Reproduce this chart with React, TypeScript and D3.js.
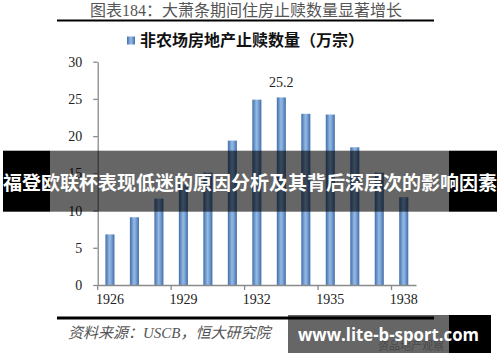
import React, { useEffect, useRef } from 'react'
import * as d3 from 'd3'

// data
const years = ['1926', '1927', '1928', '1929', '1930', '1931', '1932', '1933', '1934', '1935', '1936', '1937', '1938']
const foreclosures = [6.8, 9.1, 11.6, 13.5, 15.1, 19.4, 24.9, 25.2, 23.0, 22.9, 18.5, 15.1, 11.8]
const labelYears = ['1926', '1929', '1932', '1935', '1938']
const yTicks = [0, 5, 10, 15, 20, 25, 30]
const peakLabel = '25.2'
const peakYear = '1933'

const title = '图表184：大萧条期间住房止赎数量显著增长'
const legendLabel = '非农场房地产止赎数量（万宗）'
const source = '资料来源：USCB，恒大研究院'
const banner = '福登欧联杯表现低迷的原因分析及其背后深层次的影响因素'
const watermark = 'www.lite-b-sport.com'
const faintMark = '资品地产观察'

const serif = '"Liberation Serif", "Noto Sans CJK SC", serif'
const cjk = '"Noto Sans CJK SC", sans-serif'

export default function App() {
    const svgRef = useRef<SVGSVGElement>(null)

    useEffect(() => {
        const w = 500
        const h = 362
        const svg = d3.select(svgRef.current)
        svg.selectAll('*').remove()
        svg.attr('width', w).attr('height', h).style('background', 'white')

        const defs = svg.append('defs')
        const grad = defs.append('linearGradient').attr('id', 'barGrad')
            .attr('x1', '0%').attr('x2', '100%').attr('y1', '0%').attr('y2', '0%')
        grad.append('stop').attr('offset', '0%').attr('stop-color', '#3f6ea9')
        grad.append('stop').attr('offset', '45%').attr('stop-color', '#93b8e3')
        grad.append('stop').attr('offset', '60%').attr('stop-color', '#86acdb')
        grad.append('stop').attr('offset', '100%').attr('stop-color', '#3f6ea9')

        // scales
        const x = d3.scaleBand().domain(years).range([97.7, 416]).padding(0)
        const y = d3.scaleLinear().domain([0, 30]).range([285, 61.7])

        // title + rule
        svg.append('text')
            .attr('x', 246).attr('y', 16)
            .attr('text-anchor', 'middle')
            .style('font-family', serif).style('font-size', '16px').style('fill', '#555')
            .text(title)
        svg.append('line')
            .attr('x1', 57).attr('x2', 434).attr('y1', 20.5).attr('y2', 20.5)
            .attr('stroke', '#000').attr('stroke-width', 2.2)

        // legend
        svg.append('rect')
            .attr('x', 127).attr('y', 36.5).attr('width', 8).attr('height', 8)
            .attr('fill', 'url(#barGrad)')
        svg.append('text')
            .attr('x', 140).attr('y', 46)
            .style('font-family', cjk).style('font-size', '16px').style('font-weight', 'bold')
            .style('fill', '#111')
            .text(legendLabel)

        // bars
        const bw = x.bandwidth() * 0.37
        svg.append('g').selectAll('rect')
            .data(years)
            .join('rect')
            .attr('x', (d) => (x(d) as number) + x.bandwidth() / 2 - bw / 2)
            .attr('width', bw)
            .attr('y', (d, i) => y(foreclosures[i]))
            .attr('height', (d, i) => y(0) - y(foreclosures[i]))
            .attr('fill', 'url(#barGrad)')

        svg.append('text')
            .attr('x', (x(peakYear) as number) + x.bandwidth() / 2)
            .attr('y', y(foreclosures[years.indexOf(peakYear)]) - 10)
            .attr('text-anchor', 'middle')
            .style('font-family', serif).style('font-size', '14px').style('fill', '#222')
            .text(peakLabel)

        // axes
        const yAxis = d3.axisLeft(y).tickValues(yTicks).tickSize(4.5).tickSizeOuter(0).tickPadding(11)
        const gy = svg.append('g').attr('transform', 'translate(97.7,0)').call(yAxis)

        const xAxis = d3.axisBottom(x).tickValues(labelYears).tickSize(0).tickSizeOuter(0).tickPadding(9)
        const gx = svg.append('g').attr('transform', `translate(0,${y(0)})`).call(xAxis)
        gx.selectAll('.tick').append('line')
            .attr('x1', -x.bandwidth() / 2).attr('x2', -x.bandwidth() / 2)
            .attr('y1', 0).attr('y2', 5)

        for (const g of [gx, gy]) {
            g.select('.domain').attr('stroke', '#8a8a8a').attr('stroke-width', 1.3)
            g.selectAll('.tick line').attr('stroke', '#8a8a8a').attr('stroke-width', 1.3)
            g.selectAll('.tick text')
                .style('font-family', serif).style('font-size', '14px').style('fill', '#222')
        }

        // bottom rule + source
        svg.append('line')
            .attr('x1', 57).attr('x2', 434).attr('y1', 318).attr('y2', 318)
            .attr('stroke', '#000').attr('stroke-width', 3)
        svg.append('text')
            .attr('x', 68).attr('y', 338)
            .style('font-family', serif).style('font-size', '15px').style('font-style', 'italic')
            .style('fill', '#555')
            .text(source)

        // overlay banner
        svg.append('rect').attr('x', 3).attr('y', 150.7).attr('width', 47).attr('height', 61).attr('fill', '#000')
        svg.append('rect').attr('x', 449).attr('y', 150.7).attr('width', 48).attr('height', 61).attr('fill', '#000')
        svg.append('rect').attr('x', 50).attr('y', 150.7).attr('width', 399).attr('height', 61)
            .attr('fill', 'rgba(0,0,0,0.6)')
        svg.append('text')
            .attr('x', 3).attr('y', 189.5)
            .attr('textLength', 494).attr('lengthAdjust', 'spacingAndGlyphs')
            .style('font-family', cjk).style('font-size', '19px').style('font-weight', 'bold')
            .style('fill', '#fff')
            .text(banner)

        // watermark box
        svg.append('rect').attr('x', 288).attr('y', 315).attr('width', 161).attr('height', 38)
            .attr('fill', 'rgba(0,0,0,0.6)')
        svg.append('rect').attr('x', 449).attr('y', 315).attr('width', 42).attr('height', 38).attr('fill', '#000')
        svg.append('text')
            .attr('x', 378).attr('y', 350)
            .style('font-family', cjk).style('font-size', '11px')
            .style('fill', '#4a4a4a')
            .text(faintMark)
        svg.append('text')
            .attr('x', 298).attr('y', 341)
            .attr('textLength', 181).attr('lengthAdjust', 'spacingAndGlyphs')
            .style('font-family', '"Open Sans", "Noto Sans", sans-serif').style('font-size', '18px')
            .style('font-weight', 'bold').style('fill', '#fff')
            .text(watermark)
    }, [])

    return (
        <svg ref={svgRef} style={{ position: 'absolute', left: 0, top: 0 }}></svg>
    )
}
